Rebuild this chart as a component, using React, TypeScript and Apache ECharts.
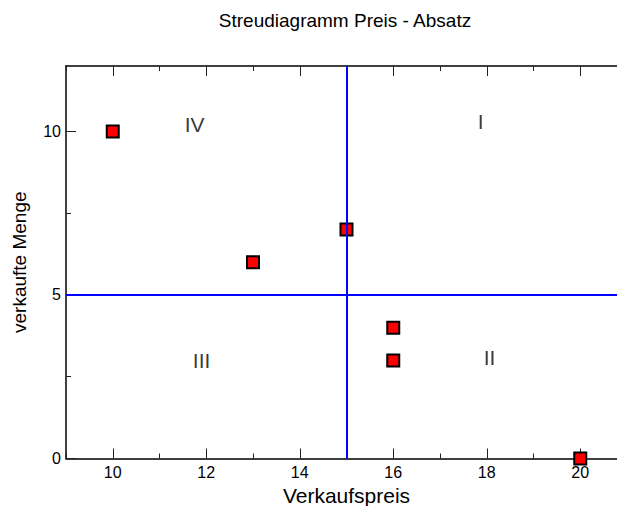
import React, { useEffect, useRef } from "react";
import * as echarts from "echarts";

const prices = [10, 13, 15, 16, 16, 20];
const quantities = [10, 6, 7, 4, 3, 0];
const xMajorTicks = [10, 12, 14, 16, 18, 20];
const xMinorTicks = [9, 11, 13, 15, 17, 19, 21];
const yMajorTicks = [0, 5, 10];
const yMinorTicks = [2.5, 7.5];
const quadrantNames = ["IV", "I", "III", "II"];
const quadrantX = [11.75, 17.87, 11.9, 18.06];
const quadrantY = [10.2, 10.3, 3.0, 3.1];
const priceThreshold = 15;
const quantityThreshold = 5;

const FONT = "'Liberation Sans', Arial, sans-serif";

export default function App() {
  const ref = useRef<HTMLDivElement>(null);
  useEffect(() => {
    if (!ref.current) return;
    const chart = echarts.init(ref.current, undefined, { renderer: "svg" });
    const axisLine = { show: true, lineStyle: { color: "#000", width: 1.5 } };
    const xBase = { type: "value", min: 9, max: 21, splitLine: { show: false }, gridIndex: 0 };
    const yBase = { type: "value", min: 0, max: 12, splitLine: { show: false }, gridIndex: 0 };
    const tickStyle = { color: "#222", width: 1 };
    chart.setOption({
      animation: false,
      textStyle: { fontFamily: FONT },
      grid: { left: 66, top: 66, right: -10, bottom: 47.5, containLabel: false, outerBoundsMode: "none" },
      graphic: [
        {
          type: "text",
          x: 345,
          y: 20,
          style: {
            text: "Streudiagramm Preis - Absatz",
            fill: "#000",
            font: `19px ${FONT}`,
            textAlign: "center",
            textVerticalAlign: "middle",
          },
        },
        {
          type: "rect",
          z: 1,
          shape: { x: 612, y: 68, width: 10, height: 222 },
          style: { fill: "#fff" },
        },
        {
          type: "rect",
          z: 1,
          shape: { x: 612, y: 300, width: 10, height: 157 },
          style: { fill: "#fff" },
        },
      ],
      xAxis: [
        {
          ...xBase,
          position: "bottom",
          axisLine,
          axisTick: { show: true, inside: true, length: 10, customValues: xMajorTicks, lineStyle: tickStyle },
          axisLabel: { show: true, customValues: xMajorTicks, color: "#000", fontSize: 16, margin: 6, fontFamily: FONT },
          name: "Verkaufspreis",
          nameLocation: "middle",
          nameGap: 23,
          nameTextStyle: { color: "#000", fontSize: 21, fontFamily: FONT },
        },
        {
          ...xBase,
          position: "bottom",
          axisLine: { show: false },
          axisTick: { show: true, inside: true, length: 5, customValues: xMinorTicks, lineStyle: tickStyle },
          axisLabel: { show: false },
        },
        {
          ...xBase,
          position: "top",
          axisLine,
          axisTick: { show: true, inside: true, length: 10, customValues: xMajorTicks, lineStyle: tickStyle },
          axisLabel: { show: false },
        },
        {
          ...xBase,
          position: "top",
          axisLine: { show: false },
          axisTick: { show: true, inside: true, length: 5, customValues: xMinorTicks, lineStyle: tickStyle },
          axisLabel: { show: false },
        },
      ],
      yAxis: [
        {
          ...yBase,
          position: "left",
          axisLine,
          axisTick: { show: true, inside: true, length: 10, customValues: yMajorTicks, lineStyle: tickStyle },
          axisLabel: { show: true, customValues: yMajorTicks, color: "#000", fontSize: 16, margin: 5, fontFamily: FONT },
          name: "verkaufte Menge",
          nameLocation: "middle",
          nameGap: 37,
          nameTextStyle: { color: "#000", fontSize: 19, fontFamily: FONT },
        },
        {
          ...yBase,
          position: "left",
          axisLine: { show: false },
          axisTick: { show: true, inside: true, length: 5, customValues: yMinorTicks, lineStyle: tickStyle },
          axisLabel: { show: false },
        },
      ],
      series: [
        {
          type: "scatter",
          xAxisIndex: 0,
          yAxisIndex: 0,
          clip: false,
          symbol: "rect",
          symbolSize: 12,
          itemStyle: { color: "#ff0000", borderColor: "#000", borderWidth: 2, opacity: 1 },
          data: prices.map((p, i) => [p, quantities[i]]),
          markLine: {
            silent: true,
            symbol: "none",
            label: { show: false },
            lineStyle: { color: "#0000ff", width: 2, type: "solid", opacity: 1 },
            data: [{ xAxis: priceThreshold }, { yAxis: quantityThreshold }],
          },
          z: 3,
        },
        {
          type: "scatter",
          xAxisIndex: 0,
          yAxisIndex: 0,
          symbol: "circle",
          symbolSize: 0,
          silent: true,
          label: {
            show: true,
            position: "inside",
            formatter: "{b}",
            color: "#000",
            fontSize: 21,
            fontFamily: FONT,
          },
          data: quadrantNames.map((n, i) => ({ name: n, value: [quadrantX[i], quadrantY[i]] })),
        },
      ],
    });
    return () => chart.dispose();
  }, []);
  return (
    <div
      ref={ref}
      style={{ position: "fixed", left: 0, top: 0, width: 617, height: 506, background: "#fff" }}
    />
  );
}
